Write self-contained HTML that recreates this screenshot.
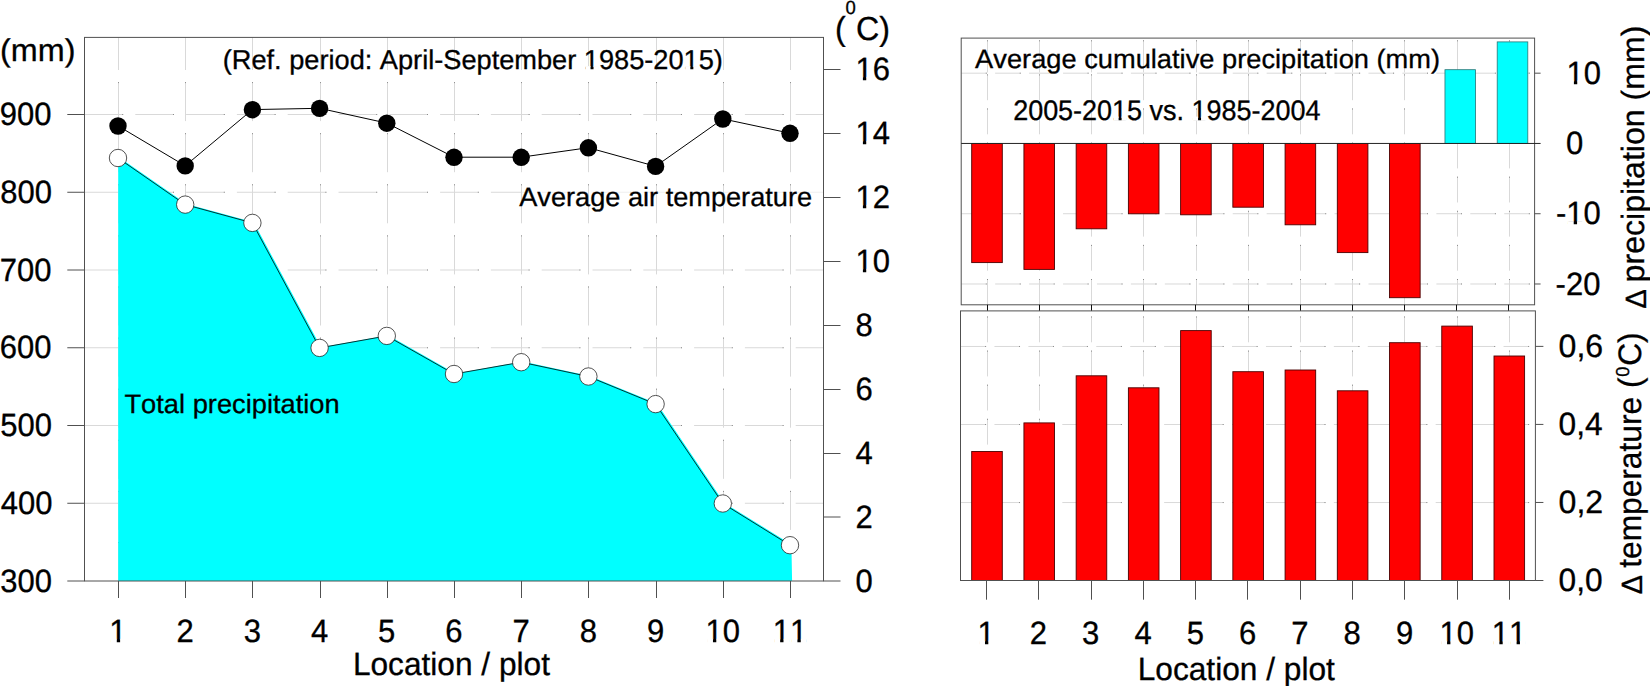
<!DOCTYPE html>
<html lang="en">
<head>
<meta charset="utf-8">
<title>Precipitation and temperature by location / plot</title>
<style>
html,body{margin:0;padding:0;background:#fff;}
body{width:1650px;height:686px;overflow:hidden;font-family:'Liberation Sans', Arial, sans-serif;}
svg{display:block;}
text{white-space:pre;font-kerning:none;text-rendering:geometricPrecision;stroke:#000;stroke-width:0.3px;}
</style>
</head>
<body>
<svg width="1650" height="686" viewBox="0 0 1650 686" font-family="'Liberation Sans', Arial, sans-serif" fill="#000">
<g id="left-chart">
<g stroke="#d9d9d9" stroke-width="1" fill="none" stroke-dasharray="38.7 12.1">
<path d="M84.5 503.25H823.5"/>
<path d="M84.5 425.5H823.5"/>
<path d="M84.5 347.75H823.5"/>
<path d="M84.5 270H823.5"/>
<path d="M84.5 192.25H823.5"/>
<path d="M84.5 114.5H823.5"/>
</g>
<g stroke="#8a8a8a" stroke-width="1" fill="none" stroke-dasharray="1 49.8" stroke-dashoffset="-37.7">
<path d="M84.5 503.25H823.5"/>
<path d="M84.5 425.5H823.5"/>
<path d="M84.5 347.75H823.5"/>
<path d="M84.5 270H823.5"/>
<path d="M84.5 192.25H823.5"/>
<path d="M84.5 114.5H823.5"/>
</g>
<rect x="521.6" y="181" width="301.9" height="33" fill="#fff" fill-opacity="0.6"/>
<g stroke="#d9d9d9" stroke-width="1" fill="none" stroke-dasharray="39 12.1">
<path d="M118.5 581V37.4"/>
<path d="M185.5 581V37.4"/>
<path d="M252.5 581V37.4"/>
<path d="M320.5 581V37.4"/>
<path d="M387.5 581V37.4"/>
<path d="M454.5 581V37.4"/>
<path d="M521.5 581V37.4"/>
<path d="M588.5 581V37.4"/>
<path d="M656.5 581V37.4"/>
<path d="M723.5 581V37.4"/>
<path d="M790.5 581V37.4"/>
</g>
<g stroke="#8a8a8a" stroke-width="1" fill="none" stroke-dasharray="1 50.1" stroke-dashoffset="-38">
<path d="M118.5 581V37.4"/>
<path d="M185.5 581V37.4"/>
<path d="M252.5 581V37.4"/>
<path d="M320.5 581V37.4"/>
<path d="M387.5 581V37.4"/>
<path d="M454.5 581V37.4"/>
<path d="M521.5 581V37.4"/>
<path d="M588.5 581V37.4"/>
<path d="M656.5 581V37.4"/>
<path d="M723.5 581V37.4"/>
<path d="M790.5 581V37.4"/>
</g>
<polygon points="118.2,581 118.2,158 119.4,157.4 186.6,204 253.8,222.3 321,347.3 388.2,335.3 455.4,373.4 522.6,361.6 589.8,375.9 657,403.5 724.2,502.9 791.4,544.6 792.1,581" fill="#00ffff"/>
<polyline points="118,158 185.2,204.6 252.4,222.9 319.6,347.9 386.8,335.9 454,374 521.2,362.2 588.4,376.5 655.6,404.1 722.8,503.5 790,545.2" fill="none" stroke="#000" stroke-width="0.8"/>
<polyline points="118,125.9 185.2,165.8 252.4,109.6 319.6,108.3 386.8,123.1 454,157.2 521.2,157.2 588.4,147.7 655.6,166.3 722.8,118.9 790,133.2" fill="none" stroke="#000" stroke-width="1"/>
<g stroke="#505050" stroke-width="1" fill="none">
<rect x="84.5" y="37.4" width="739" height="543.6"/>
<path d="M67.3 581H84.5"/>
<path d="M67.3 503.25H84.5"/>
<path d="M67.3 425.5H84.5"/>
<path d="M67.3 347.75H84.5"/>
<path d="M67.3 270H84.5"/>
<path d="M67.3 192.25H84.5"/>
<path d="M67.3 114.5H84.5"/>
<path d="M823.5 581H840.5"/>
<path d="M823.5 517H840.5"/>
<path d="M823.5 453.5H840.5"/>
<path d="M823.5 389.5H840.5"/>
<path d="M823.5 325.5H840.5"/>
<path d="M823.5 261.5H840.5"/>
<path d="M823.5 197.5H840.5"/>
<path d="M823.5 133.5H840.5"/>
<path d="M823.5 69.5H840.5"/>
<path d="M118.5 581V598"/>
<path d="M185.5 581V598"/>
<path d="M252.5 581V598"/>
<path d="M320.5 581V598"/>
<path d="M387.5 581V598"/>
<path d="M454.5 581V598"/>
<path d="M521.5 581V598"/>
<path d="M588.5 581V598"/>
<path d="M656.5 581V598"/>
<path d="M723.5 581V598"/>
<path d="M790.5 581V598"/>
</g>
<g fill="#fff" stroke="#1a1a1a" stroke-width="0.75">
<circle cx="118" cy="158" r="8.7"/>
<circle cx="185.2" cy="204.6" r="8.7"/>
<circle cx="252.4" cy="222.9" r="8.7"/>
<circle cx="319.6" cy="347.9" r="8.7"/>
<circle cx="386.8" cy="335.9" r="8.7"/>
<circle cx="454" cy="374" r="8.7"/>
<circle cx="521.2" cy="362.2" r="8.7"/>
<circle cx="588.4" cy="376.5" r="8.7"/>
<circle cx="655.6" cy="404.1" r="8.7"/>
<circle cx="722.8" cy="503.5" r="8.7"/>
<circle cx="790" cy="545.2" r="8.7"/>
</g>
<g fill="#000">
<circle cx="118" cy="126" r="8.7"/>
<circle cx="185.2" cy="165.9" r="8.7"/>
<circle cx="252.4" cy="109.7" r="8.7"/>
<circle cx="319.6" cy="108.4" r="8.7"/>
<circle cx="386.8" cy="123.2" r="8.7"/>
<circle cx="454" cy="157.3" r="8.7"/>
<circle cx="521.2" cy="157.3" r="8.7"/>
<circle cx="588.4" cy="147.8" r="8.7"/>
<circle cx="655.6" cy="166.4" r="8.7"/>
<circle cx="722.8" cy="119" r="8.7"/>
<circle cx="790" cy="133.3" r="8.7"/>
</g>
<text transform="translate(222.73 69) scale(0.9999 1.0)" font-size="27.2" text-anchor="start">(Ref. period: April-September 1985-2015)</text>
<text transform="translate(519.2 205.6) scale(0.9990 0.98)" font-size="27.2" text-anchor="start">Average air temperature</text>
<text transform="translate(124.47 412.5) scale(1.0026 0.98)" font-size="27.2" text-anchor="start">Total precipitation</text>
<text transform="translate(0.08 60.8) scale(1.0040 0.98)" font-size="32.2" text-anchor="start">(mm)</text>
<text transform="translate(0.33 591.7) scale(1.0000 1.04)" font-size="31" text-anchor="start">300</text>
<text transform="translate(0.82 513.95) scale(1.0000 1.04)" font-size="31" text-anchor="start">400</text>
<text transform="translate(0.33 436.2) scale(1.0000 1.04)" font-size="31" text-anchor="start">500</text>
<text transform="translate(-0.15 358.45) scale(1.0000 1.04)" font-size="31" text-anchor="start">600</text>
<text transform="translate(-0.15 280.7) scale(1.0000 1.04)" font-size="31" text-anchor="start">700</text>
<text transform="translate(0.33 202.95) scale(1.0000 1.04)" font-size="31" text-anchor="start">800</text>
<text transform="translate(-0.15 125.2) scale(1.0000 1.04)" font-size="31" text-anchor="start">900</text>
<text transform="translate(855.4 591.7) scale(1.0000 1.04)" font-size="31" text-anchor="start">0</text>
<text transform="translate(855.4 527.7) scale(1.0000 1.04)" font-size="31" text-anchor="start">2</text>
<text transform="translate(855.4 464.2) scale(1.0000 1.04)" font-size="31" text-anchor="start">4</text>
<text transform="translate(855.4 400.2) scale(1.0000 1.04)" font-size="31" text-anchor="start">6</text>
<text transform="translate(855.4 336.2) scale(1.0000 1.04)" font-size="31" text-anchor="start">8</text>
<text transform="translate(855.4 272.2) scale(1.0000 1.04)" font-size="31" text-anchor="start">10</text>
<text transform="translate(855.4 208.2) scale(1.0000 1.04)" font-size="31" text-anchor="start">12</text>
<text transform="translate(855.4 144.2) scale(1.0000 1.04)" font-size="31" text-anchor="start">14</text>
<text transform="translate(855.4 80.2) scale(1.0000 1.04)" font-size="31" text-anchor="start">16</text>
<text transform="translate(117.9 642.2) scale(1.0000 1.04)" font-size="31" text-anchor="middle">1</text>
<text transform="translate(185.1 642.2) scale(1.0000 1.04)" font-size="31" text-anchor="middle">2</text>
<text transform="translate(252.3 642.2) scale(1.0000 1.04)" font-size="31" text-anchor="middle">3</text>
<text transform="translate(319.5 642.2) scale(1.0000 1.04)" font-size="31" text-anchor="middle">4</text>
<text transform="translate(386.7 642.2) scale(1.0000 1.04)" font-size="31" text-anchor="middle">5</text>
<text transform="translate(453.9 642.2) scale(1.0000 1.04)" font-size="31" text-anchor="middle">6</text>
<text transform="translate(521.1 642.2) scale(1.0000 1.04)" font-size="31" text-anchor="middle">7</text>
<text transform="translate(588.3 642.2) scale(1.0000 1.04)" font-size="31" text-anchor="middle">8</text>
<text transform="translate(655.5 642.2) scale(1.0000 1.04)" font-size="31" text-anchor="middle">9</text>
<text transform="translate(722.7 642.2) scale(1.0000 1.04)" font-size="31" text-anchor="middle">10</text>
<text transform="translate(789.9 642.2) scale(1.0000 1.04)" font-size="31" text-anchor="middle">11</text>
<text transform="translate(352.93 674.9) scale(0.9829 1.0)" font-size="32.2" text-anchor="start">Location / plot</text>
<text transform="translate(836.6 39.7) scale(1.0000 1.03)"><tspan font-size="32.2" dx="-1.51" dy="-0">(</tspan><tspan font-size="18.5" dx="-0.29" dy="-24.95">0</tspan><tspan font-size="32.2" dx="0.28" dy="24.95">C)</tspan></text>
<g fill="#fff" stroke="none"><rect x="585.38" y="66.07" width="5.14" height="4.13"/><rect x="593.53" y="66.07" width="5.23" height="4.13"/><rect x="685.19" y="66.07" width="5.14" height="4.13"/><rect x="693.34" y="66.07" width="5.23" height="4.13"/><rect x="856.99" y="268.89" width="5.91" height="4.51"/><rect x="866.24" y="268.89" width="5.96" height="4.51"/><rect x="856.99" y="204.89" width="5.91" height="4.51"/><rect x="866.24" y="204.89" width="5.96" height="4.51"/><rect x="856.99" y="140.89" width="5.91" height="4.51"/><rect x="866.24" y="140.89" width="5.96" height="4.51"/><rect x="856.99" y="76.89" width="5.91" height="4.51"/><rect x="866.24" y="76.89" width="5.96" height="4.51"/><rect x="110.87" y="638.89" width="5.91" height="4.51"/><rect x="120.11" y="638.89" width="5.96" height="4.51"/><rect x="707.05" y="638.89" width="5.91" height="4.51"/><rect x="716.29" y="638.89" width="5.96" height="4.51"/><rect x="774.25" y="638.89" width="5.91" height="4.51"/><rect x="783.49" y="638.89" width="5.96" height="4.51"/><rect x="791.49" y="638.89" width="5.91" height="4.51"/><rect x="800.74" y="638.89" width="5.96" height="4.51"/></g>
</g>
<g id="right-top">
<g stroke="#d9d9d9" stroke-width="1" fill="none" stroke-dasharray="25.8 8.3">
<path d="M961.2 73.18H1534.6" stroke-dasharray="25.6 8.34" stroke-dashoffset="0"/>
<path d="M961.2 213.72H1534.6" stroke-dasharray="25.6 8.34" stroke-dashoffset="0"/>
<path d="M961.2 283.99H1534.6" stroke-dasharray="25.6 8.34" stroke-dashoffset="0"/>
<path d="M987.5 304.8V39.9"/>
<path d="M987.5 65V72.4" stroke-dasharray="none"/>
<path d="M1039.5 304.8V39.9"/>
<path d="M1039.5 65V72.4" stroke-dasharray="none"/>
<path d="M1091.5 304.8V39.9"/>
<path d="M1091.5 65V72.4" stroke-dasharray="none"/>
<path d="M1143.5 304.8V39.9"/>
<path d="M1143.5 65V72.4" stroke-dasharray="none"/>
<path d="M1196.5 304.8V39.9"/>
<path d="M1196.5 65V72.4" stroke-dasharray="none"/>
<path d="M1248.5 304.8V39.9"/>
<path d="M1248.5 65V72.4" stroke-dasharray="none"/>
<path d="M1300.5 304.8V39.9"/>
<path d="M1300.5 65V72.4" stroke-dasharray="none"/>
<path d="M1352.5 304.8V39.9"/>
<path d="M1352.5 65V72.4" stroke-dasharray="none"/>
<path d="M1404.5 304.8V39.9"/>
<path d="M1404.5 65V72.4" stroke-dasharray="none"/>
<path d="M1457.5 304.8V39.9"/>
<path d="M1457.5 65V72.4" stroke-dasharray="none"/>
<path d="M1509.5 304.8V39.9"/>
<path d="M1509.5 65V72.4" stroke-dasharray="none"/>
</g>
<g stroke="#8a8a8a" stroke-width="1" fill="none" stroke-dasharray="1 33.1" stroke-dashoffset="-24.8">
<path d="M961.2 73.18H1534.6" stroke-dasharray="1 32.94" stroke-dashoffset="-24.6"/>
<path d="M961.2 213.72H1534.6" stroke-dasharray="1 32.94" stroke-dashoffset="-24.6"/>
<path d="M961.2 283.99H1534.6" stroke-dasharray="1 32.94" stroke-dashoffset="-24.6"/>
<path d="M987.5 304.8V39.9"/>
<path d="M1039.5 304.8V39.9"/>
<path d="M1091.5 304.8V39.9"/>
<path d="M1143.5 304.8V39.9"/>
<path d="M1196.5 304.8V39.9"/>
<path d="M1248.5 304.8V39.9"/>
<path d="M1300.5 304.8V39.9"/>
<path d="M1352.5 304.8V39.9"/>
<path d="M1404.5 304.8V39.9"/>
<path d="M1457.5 304.8V39.9"/>
<path d="M1509.5 304.8V39.9"/>
</g>
<text transform="translate(975.1 67.8) scale(1.0024 0.98)" font-size="27.2" text-anchor="start">Average cumulative precipitation (mm)</text>
<text transform="translate(1013.14 119.6) scale(0.9917 1.04)" font-size="27.2" text-anchor="start">2005-2015 vs. 1985-2004</text>
<g fill="#ff0000" stroke="#4a0000" stroke-width="0.9">
<rect x="971.7" y="143.45" width="30.6" height="119.15"/>
<rect x="1023.93" y="143.45" width="30.6" height="125.95"/>
<rect x="1076.16" y="143.45" width="30.6" height="85.35"/>
<rect x="1128.39" y="143.45" width="30.6" height="70.35"/>
<rect x="1180.62" y="143.45" width="30.6" height="71.35"/>
<rect x="1232.85" y="143.45" width="30.6" height="63.75"/>
<rect x="1285.08" y="143.45" width="30.6" height="81.35"/>
<rect x="1337.31" y="143.45" width="30.6" height="109.15"/>
<rect x="1389.54" y="143.45" width="30.6" height="154.25"/>
</g>
<g fill="#00ffff" stroke="#2a7575" stroke-width="0.8">
<rect x="1444.97" y="69.7" width="30.6" height="73.75"/>
<rect x="1497.2" y="41.9" width="30.6" height="101.55"/>
</g>
<g stroke="#505050" stroke-width="1" fill="none">
<rect x="961.2" y="38.1" width="573.4" height="266.7"/>
<path d="M961.2 143.45H1540.6" stroke="#222"/>
<path d="M1534.6 73.18H1540.6"/>
<path d="M1534.6 213.72H1540.6"/>
<path d="M1534.6 283.99H1540.6"/>
<path d="M987.5 304.8V310.9" stroke="#111"/>
<path d="M1039.5 304.8V310.9" stroke="#111"/>
<path d="M1091.5 304.8V310.9" stroke="#111"/>
<path d="M1143.5 304.8V310.9" stroke="#111"/>
<path d="M1195.5 304.8V310.9" stroke="#111"/>
<path d="M1248.5 304.8V310.9" stroke="#111"/>
<path d="M1300.5 304.8V310.9" stroke="#111"/>
<path d="M1352.5 304.8V310.9" stroke="#111"/>
<path d="M1404.5 304.8V310.9" stroke="#111"/>
<path d="M1456.5 304.8V310.9" stroke="#111"/>
<path d="M1508.5 304.8V310.9" stroke="#111"/>
</g>
<text transform="translate(1566.4 83.88) scale(1.0000 1.04)" font-size="31" text-anchor="start">10</text>
<text transform="translate(1565.9 154.15) scale(1.0000 1.04)" font-size="31" text-anchor="start">0</text>
<text transform="translate(1555.9 224.42) scale(1.0000 1.04)" font-size="31" text-anchor="start">-10</text>
<text transform="translate(1555.6 294.69) scale(1.0000 1.04)" font-size="31" text-anchor="start">-20</text>
<text transform="translate(1644.3 308.4) rotate(-90) scale(0.9973 1.0)"><tspan font-size="29.36" dx="-0.46" dy="1.7">Δ</tspan><tspan font-size="32.2" dx="-2.04" dy="-1.7"> precipitation (mm)</tspan></text>
<g fill="#fff" stroke="none"><rect x="1113.51" y="116.59" width="5.1" height="4.21"/><rect x="1121.59" y="116.59" width="5.19" height="4.21"/><rect x="1192.96" y="116.59" width="5.1" height="4.21"/><rect x="1201.05" y="116.59" width="5.19" height="4.21"/><rect x="1567.99" y="80.57" width="5.91" height="4.51"/><rect x="1577.24" y="80.57" width="5.96" height="4.51"/><rect x="1567.81" y="221.11" width="5.91" height="4.51"/><rect x="1577.06" y="221.11" width="5.96" height="4.51"/></g>
</g>
<g id="right-bottom">
<g stroke="#d9d9d9" stroke-width="1" fill="none" stroke-dasharray="25.8 8.3">
<path d="M960.5 502.56H1535.4" stroke-dasharray="25.6 8.34" stroke-dashoffset="0"/>
<path d="M960.5 424.52H1535.4" stroke-dasharray="25.6 8.34" stroke-dashoffset="0"/>
<path d="M960.5 346.48H1535.4" stroke-dasharray="25.6 8.34" stroke-dashoffset="0"/>
<path d="M987.5 581V310.9"/>
<path d="M1039.5 581V310.9"/>
<path d="M1091.5 581V310.9"/>
<path d="M1143.5 581V310.9"/>
<path d="M1196.5 581V310.9"/>
<path d="M1248.5 581V310.9"/>
<path d="M1300.5 581V310.9"/>
<path d="M1352.5 581V310.9"/>
<path d="M1404.5 581V310.9"/>
<path d="M1457.5 581V310.9"/>
<path d="M1509.5 581V310.9"/>
</g>
<g stroke="#8a8a8a" stroke-width="1" fill="none" stroke-dasharray="1 33.1" stroke-dashoffset="-24.8">
<path d="M960.5 502.56H1535.4" stroke-dasharray="1 32.94" stroke-dashoffset="-24.6"/>
<path d="M960.5 424.52H1535.4" stroke-dasharray="1 32.94" stroke-dashoffset="-24.6"/>
<path d="M960.5 346.48H1535.4" stroke-dasharray="1 32.94" stroke-dashoffset="-24.6"/>
<path d="M987.5 581V310.9"/>
<path d="M1039.5 581V310.9"/>
<path d="M1091.5 581V310.9"/>
<path d="M1143.5 581V310.9"/>
<path d="M1196.5 581V310.9"/>
<path d="M1248.5 581V310.9"/>
<path d="M1300.5 581V310.9"/>
<path d="M1352.5 581V310.9"/>
<path d="M1404.5 581V310.9"/>
<path d="M1457.5 581V310.9"/>
<path d="M1509.5 581V310.9"/>
</g>
<g fill="#ff0000" stroke="#4a0000" stroke-width="0.9">
<rect x="971.7" y="451.5" width="30.6" height="129"/>
<rect x="1023.93" y="422.9" width="30.6" height="157.6"/>
<rect x="1076.16" y="375.8" width="30.6" height="204.7"/>
<rect x="1128.39" y="387.8" width="30.6" height="192.7"/>
<rect x="1180.62" y="330.6" width="30.6" height="249.9"/>
<rect x="1232.85" y="371.7" width="30.6" height="208.8"/>
<rect x="1285.08" y="370" width="30.6" height="210.5"/>
<rect x="1337.31" y="390.8" width="30.6" height="189.7"/>
<rect x="1389.54" y="342.7" width="30.6" height="237.8"/>
<rect x="1441.77" y="326.1" width="30.6" height="254.4"/>
<rect x="1494" y="356" width="30.6" height="224.5"/>
</g>
<g stroke="#505050" stroke-width="1" fill="none">
<rect x="960.5" y="310.9" width="574.9" height="269.6"/>
<path d="M1535.4 580.5H1543.4"/>
<path d="M1535.4 502.46H1543.4"/>
<path d="M1535.4 424.42H1543.4"/>
<path d="M1535.4 346.38H1543.4"/>
<path d="M986.5 580.5V599.7"/>
<path d="M1038.5 580.5V599.7"/>
<path d="M1091.5 580.5V599.7"/>
<path d="M1143.5 580.5V599.7"/>
<path d="M1195.5 580.5V599.7"/>
<path d="M1247.5 580.5V599.7"/>
<path d="M1300.5 580.5V599.7"/>
<path d="M1352.5 580.5V599.7"/>
<path d="M1404.5 580.5V599.7"/>
<path d="M1457.5 580.5V599.7"/>
<path d="M1509.5 580.5V599.7"/>
</g>
<text transform="translate(1558.61 591.2) scale(1.0229 1.04)" font-size="31" text-anchor="start">0,0</text>
<text transform="translate(1558.6 513.16) scale(1.0350 1.04)" font-size="31" text-anchor="start">0,2</text>
<text transform="translate(1558.61 435.12) scale(1.0229 1.04)" font-size="31" text-anchor="start">0,4</text>
<text transform="translate(1558.6 357.08) scale(1.0350 1.04)" font-size="31" text-anchor="start">0,6</text>
<text transform="translate(986.1 644.1) scale(1.0000 1.04)" font-size="31" text-anchor="middle">1</text>
<text transform="translate(1038.4 644.1) scale(1.0000 1.04)" font-size="31" text-anchor="middle">2</text>
<text transform="translate(1090.7 644.1) scale(1.0000 1.04)" font-size="31" text-anchor="middle">3</text>
<text transform="translate(1143 644.1) scale(1.0000 1.04)" font-size="31" text-anchor="middle">4</text>
<text transform="translate(1195.3 644.1) scale(1.0000 1.04)" font-size="31" text-anchor="middle">5</text>
<text transform="translate(1247.6 644.1) scale(1.0000 1.04)" font-size="31" text-anchor="middle">6</text>
<text transform="translate(1299.9 644.1) scale(1.0000 1.04)" font-size="31" text-anchor="middle">7</text>
<text transform="translate(1352.2 644.1) scale(1.0000 1.04)" font-size="31" text-anchor="middle">8</text>
<text transform="translate(1404.5 644.1) scale(1.0000 1.04)" font-size="31" text-anchor="middle">9</text>
<text transform="translate(1456.8 644.1) scale(1.0000 1.04)" font-size="31" text-anchor="middle">10</text>
<text transform="translate(1509.1 644.1) scale(1.0000 1.04)" font-size="31" text-anchor="middle">11</text>
<text transform="translate(1137.73 680) scale(0.9834 1.0)" font-size="32.2" text-anchor="start">Location / plot</text>
<text transform="translate(1641.3 593.8) rotate(-90) scale(0.9849 1.01)"><tspan font-size="29.08" dx="-0.45" dy="0.69">Δ</tspan><tspan font-size="32.2" dx="-1.52" dy="-0.69"> temperature (</tspan><tspan font-size="18.5" dx="0.89" dy="-12.38">0</tspan><tspan font-size="32.2" dx="0.66" dy="12.38">C)</tspan></text>
<g fill="#fff" stroke="none"><rect x="979.07" y="640.79" width="5.91" height="4.51"/><rect x="988.31" y="640.79" width="5.96" height="4.51"/><rect x="1441.15" y="640.79" width="5.91" height="4.51"/><rect x="1450.39" y="640.79" width="5.96" height="4.51"/><rect x="1493.45" y="640.79" width="5.91" height="4.51"/><rect x="1502.69" y="640.79" width="5.96" height="4.51"/><rect x="1510.69" y="640.79" width="5.91" height="4.51"/><rect x="1519.94" y="640.79" width="5.96" height="4.51"/></g>
</g>
</svg>
</body>
</html>
